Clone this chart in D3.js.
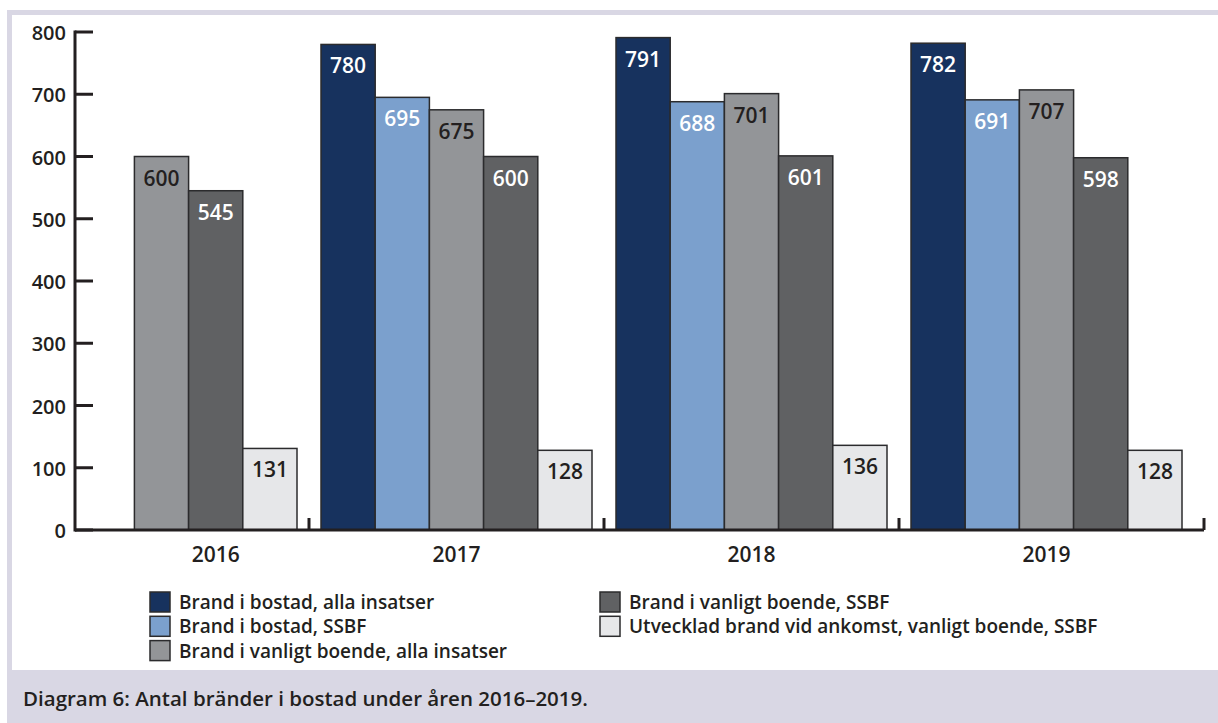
<!DOCTYPE html>
<html>
<head>
<meta charset="utf-8">
<script src="https://cdn.jsdelivr.net/npm/d3@7"></script>
<style>
  body { margin: 0; background: #fff; }
  svg text { font-family: "Open Sans", Lato, sans-serif; font-weight: 600; fill: #231f20; }
</style>
</head>
<body>
<svg id="chart" width="1218" height="723"></svg>
<script>
// chart data
let years = ["2016", "2017", "2018", "2019"];
let seriesNames = [
  "Brand i bostad, alla insatser",
  "Brand i bostad, SSBF",
  "Brand i vanligt boende, alla insatser",
  "Brand i vanligt boende, SSBF",
  "Utvecklad brand vid ankomst, vanligt boende, SSBF"
];
let bostadAlla = [null, 780, 791, 782];
let bostadSSBF = [null, 695, 688, 691];
let vanligtAlla = [600, 675, 701, 707];
let vanligtSSBF = [545, 600, 601, 598];
let utvecklad = [131, 128, 136, 128];
let yTicks = [0, 100, 200, 300, 400, 500, 600, 700, 800];
let caption = "Diagram 6: Antal bränder i bostad under åren 2016–2019.";

let seriesValues = [bostadAlla, bostadSSBF, vanligtAlla, vanligtSSBF, utvecklad];
let colors = ["#17325e", "#7ba0cd", "#939598", "#606163", "#e6e7e9"];
let labelColors = ["#ffffff", "#ffffff", "#231f20", "#ffffff", "#231f20"];

let svg = d3.select("svg#chart");

// frame + caption band
svg.append("rect").attr("x", 7).attr("y", 10).attr("width", 1211).attr("height", 713).attr("fill", "#d9d7e4");
svg.append("rect").attr("x", 12).attr("y", 15).attr("width", 1206).attr("height", 655).attr("fill", "#ffffff");

let axisX = 75;
let yScale = d3.scaleLinear().domain([0, 800]).range([530, 32]);
let xScale = d3.scaleBand().domain(years).range([14, 1194]);
let xInner = d3.scaleBand().domain(d3.range(seriesNames.length)).range([12, xScale.bandwidth() - 12]);

// bars
for (let s = 0; s < seriesValues.length; s++) {
  for (let i = 0; i < years.length; i++) {
    let v = seriesValues[s][i];
    if (v == null) continue;
    let bx = xScale(years[i]) + xInner(s);
    svg.append("rect")
      .attr("x", bx)
      .attr("y", yScale(v))
      .attr("width", xInner.bandwidth())
      .attr("height", yScale(0) - yScale(v))
      .attr("fill", colors[s])
      .attr("stroke", "#2b2b2d")
      .attr("stroke-width", 1.5);
    svg.append("text")
      .attr("x", bx + xInner.bandwidth() / 2)
      .attr("y", yScale(v) + 29)
      .attr("text-anchor", "middle")
      .attr("font-size", 21)
      .style("fill", labelColors[s])
      .text(v);
  }
}

// y axis
svg.append("line")
  .attr("x1", axisX).attr("x2", axisX)
  .attr("y1", yScale(0) + 1.5).attr("y2", yScale(800) - 1.5)
  .attr("stroke", "#231f20").attr("stroke-width", 3);
yTicks.forEach(function(t) {
  svg.append("line")
    .attr("x1", axisX).attr("x2", axisX + 18)
    .attr("y1", yScale(t)).attr("y2", yScale(t))
    .attr("stroke", "#231f20").attr("stroke-width", 3);
  svg.append("text")
    .attr("x", 66)
    .attr("y", yScale(t) + 8)
    .attr("text-anchor", "end")
    .attr("font-size", 20)
    .text(t);
});

// x axis
let axisEnd = xScale.range()[1] + 10;
svg.append("line")
  .attr("x1", axisX).attr("x2", axisEnd)
  .attr("y1", yScale(0)).attr("y2", yScale(0))
  .attr("stroke", "#231f20").attr("stroke-width", 3);
years.forEach(function(y, i) {
  let tx = (i == years.length - 1) ? axisEnd : xScale(y) + xScale.bandwidth();
  svg.append("line")
    .attr("x1", tx).attr("x2", tx)
    .attr("y1", yScale(0)).attr("y2", yScale(0) - 12)
    .attr("stroke", "#231f20").attr("stroke-width", 3);

  // label centered over the bars present in the group
  let present = seriesValues.map(function(arr, s) { return arr[i] == null ? null : s; }).filter(function(s) { return s != null; });
  let cx = xScale(y) + (xInner(present[0]) + xInner(present[present.length - 1]) + xInner.bandwidth()) / 2;
  svg.append("text")
    .attr("x", cx)
    .attr("y", 562)
    .attr("text-anchor", "middle")
    .attr("font-size", 21)
    .text(y);
});

// legend
let legendCols = [[0, 1, 2], [3, 4]];
let legendX = [150, 600];
legendCols.forEach(function(col, c) {
  col.forEach(function(s, r) {
    let ly = 592 + r * 24.3;
    svg.append("rect")
      .attr("x", legendX[c]).attr("y", ly)
      .attr("width", 20).attr("height", 20)
      .attr("fill", colors[s])
      .attr("stroke", "#2b2b2d").attr("stroke-width", 1.5);
    svg.append("text")
      .attr("x", legendX[c] + 29)
      .attr("y", ly + 17)
      .attr("font-size", 19)
      .text(seriesNames[s]);
  });
});

// caption
svg.append("text")
  .attr("x", 23)
  .attr("y", 706)
  .attr("font-size", 20.5)
  .text(caption);
</script>
</body>
</html>
